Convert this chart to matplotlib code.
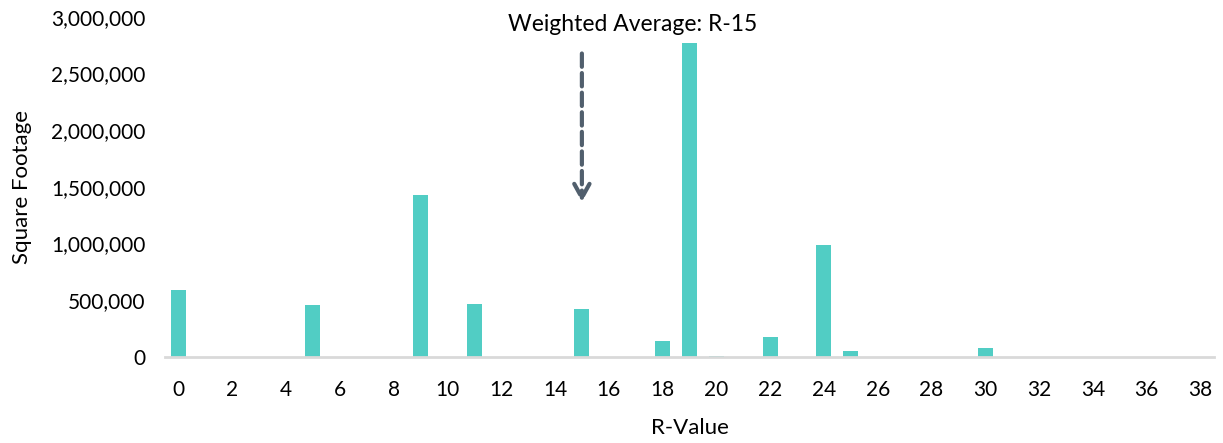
import matplotlib.pyplot as plt
import numpy as np
from matplotlib.ticker import FuncFormatter

# R-value categories 0..38 and the square footage at each
r_values = np.arange(0, 39)
sq_nonzero = {0: 585000, 5: 455000, 9: 1425000, 11: 466000, 15: 420000,
              18: 142000, 19: 2772000, 20: 8000, 22: 171000, 24: 982000,
              25: 50000, 30: 74000}
square_footage = [sq_nonzero.get(r, 0) for r in r_values]
avg_r = 15
avg_label = 'Weighted Average: R-15'
arrow_top, arrow_tip = 2700000, 1340000

plt.rcParams['font.family'] = ['Lato', 'DejaVu Sans']
bar_color = '#51CDC4'
arrow_color = '#515F6D'

fig = plt.figure(figsize=(12.23, 4.43), dpi=100)
ax = fig.add_axes([0.1349, 0.1948, 0.8577, 0.7675])

ax.bar(r_values, square_footage, width=0.56, color=bar_color, edgecolor='none')

ax.set_xlim(-0.5, 38.5)
ax.set_ylim(0, 3000000)
ax.set_xticks(r_values[::2])
ax.set_yticks(np.arange(0, 3000001, 500000))
ax.yaxis.set_major_formatter(FuncFormatter(lambda v, p: f'{int(v):,}'))
ax.tick_params(length=0, labelsize=15, colors='black')
ax.tick_params(axis='x', pad=17)
ax.tick_params(axis='y', pad=14)

for s in ['top', 'right', 'left']:
    ax.spines[s].set_visible(False)
ax.spines['bottom'].set_color('#D9D9D9')
ax.spines['bottom'].set_linewidth(2)

ax.set_xlabel('R-Value', fontsize=16, labelpad=13)
ax.set_ylabel('Square Footage', fontsize=16, labelpad=14)

# dashed arrow pointing at the weighted average
ax.annotate('', xy=(avg_r, arrow_tip), xytext=(avg_r, arrow_top),
            arrowprops=dict(arrowstyle='->,head_length=1.0,head_width=0.55',
                            color=arrow_color, lw=3, linestyle=(0, (3.2, 1.5))),
            annotation_clip=False)
ax.text(avg_r + 1.9, 2930000, avg_label, ha='center', va='center',
        fontsize=16.5, color='black', clip_on=False)

fig.savefig('out.png', dpi=100)
